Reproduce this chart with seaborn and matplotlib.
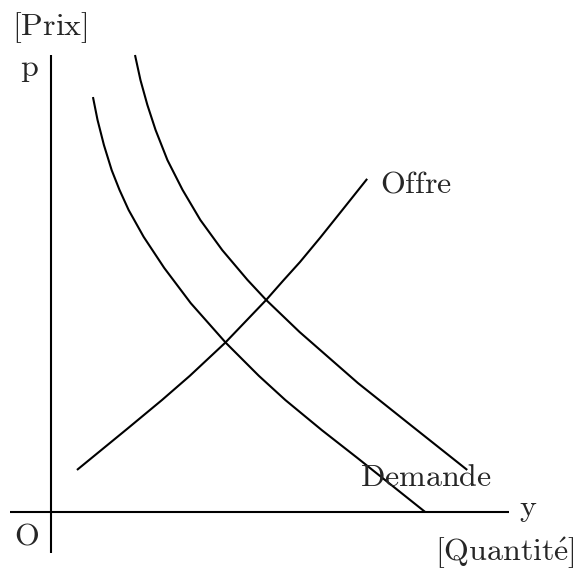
import matplotlib
matplotlib.use("Agg")
import matplotlib.pyplot as plt
import seaborn as sns
import pandas as pd

sns.set_theme(style="white")
plt.rcParams["mathtext.fontset"] = "cm"

# Curves (quantity y, price p), origin O = (0, 0)
demande1_y = [0.94, 1.04, 1.18, 1.35, 1.52, 1.72, 2.05, 2.50, 3.08, 3.85, 4.57, 5.15, 5.95, 6.73, 8.21]
demande1_p = [9.08, 8.58, 8.03, 7.48, 7.05, 6.61, 6.02, 5.34, 4.57, 3.70, 2.98, 2.45, 1.79, 1.18, 0.00]

demande2_y = [1.86, 1.98, 2.13, 2.31, 2.57, 2.90, 3.29, 3.77, 4.32, 4.73, 5.46, 6.74, 7.92, 9.13]
demande2_p = [10.00, 9.45, 8.91, 8.36, 7.70, 7.05, 6.39, 5.73, 5.08, 4.64, 3.94, 2.82, 1.88, 0.92]

offre_y = [0.59, 1.69, 2.45, 3.06, 3.83, 4.73, 5.10, 5.47, 5.91, 6.43, 6.94]
offre_p = [0.92, 1.82, 2.45, 2.98, 3.70, 4.64, 5.06, 5.47, 6.00, 6.65, 7.29]

labels = {
    "prix": r"$\mathrm{[Prix]}$",
    "p": r"$\mathrm{p}$",
    "O": r"$\mathrm{O}$",
    "y": r"$\mathrm{y}$",
    "quantite": r"$\mathrm{[Quantit\acute{e}]}$",
    "offre": r"$\mathrm{Offre}$",
    "demande": r"$\mathrm{Demande}$",
}

fig = plt.figure(figsize=(5.75, 5.72), dpi=100)
ax = fig.add_axes([0, 0, 1, 1])

lw = 1.5
# axes
ax.plot([-0.875, 10.04], [0, 0], color="black", lw=lw, solid_capstyle="butt")
ax.plot([0.03, 0.03], [-0.90, 10.0], color="black", lw=lw, solid_capstyle="butt")

for xs, ys in [(demande1_y, demande1_p), (demande2_y, demande2_p), (offre_y, offre_p)]:
    df = pd.DataFrame({"y": xs, "p": ys})
    sns.lineplot(data=df, x="y", y="p", sort=False, estimator=None, color="black",
                 lw=lw, ax=ax, legend=False, solid_joinstyle="round",
                 solid_capstyle="butt")

ax.set_xlim(-1.094, 11.488)
ax.set_ylim(-1.313, 11.204)
ax.axis("off")

fs = 23
ax.text(0.0, 10.44, labels["prix"], ha="center", va="baseline", fontsize=fs)
ax.text(-0.46, 9.54, labels["p"], ha="center", va="baseline", fontsize=fs)
ax.text(-0.525, -0.72, labels["O"], ha="center", va="baseline", fontsize=fs)
ax.text(10.46, -0.09, labels["y"], ha="center", va="baseline", fontsize=fs)
ax.text(9.96, -1.07, labels["quantite"], ha="center", va="baseline", fontsize=fs)
ax.text(7.22, 7.0, labels["offre"], ha="left", va="baseline", fontsize=fs)
ax.text(8.23, 0.57, labels["demande"], ha="center", va="baseline", fontsize=fs)

fig.savefig("out.png", dpi=100)
